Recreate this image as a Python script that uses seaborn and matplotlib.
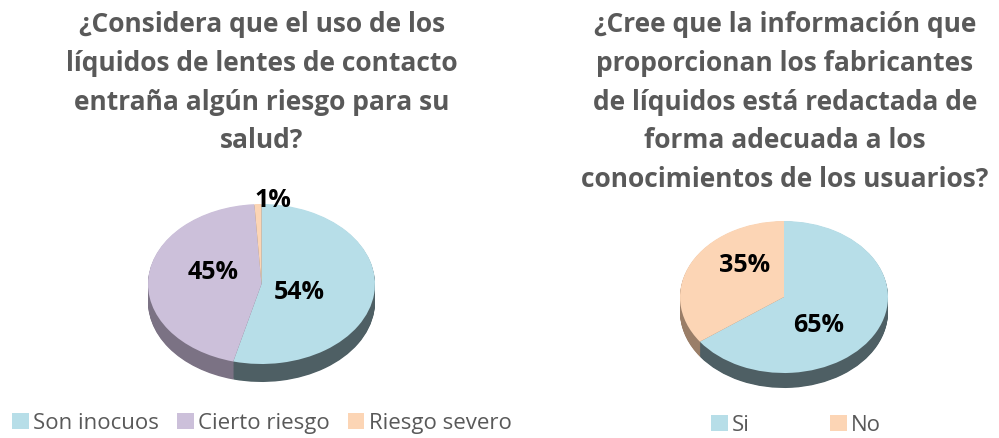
import matplotlib
matplotlib.use("Agg")
import matplotlib.pyplot as plt
from matplotlib.patches import Patch
import seaborn as sns

sns.set_theme(style="white")
plt.rcParams['font.family'] = ['Open Sans', 'DejaVu Sans']

# data
riesgo_labels = ['Son inocuos', 'Cierto riesgo', 'Riesgo severo']
riesgo_values = [54, 45, 1]
info_labels = ['Si', 'No']
info_values = [65, 35]

title_left = '¿Considera que el uso de los\nlíquidos de lentes de contacto\nentraña algún riesgo para su\nsalud?'
title_right = ('¿Cree que la información que\nproporcionan los fabricantes\nde líquidos está redactada de\n'
               'forma adecuada a los\nconocimientos de los usuarios?')

top_colors = {'Son inocuos': '#B7DEE8', 'Cierto riesgo': '#CCC0DA', 'Riesgo severo': '#FCD5B5',
              'Si': '#B7DEE8', 'No': '#FCD5B5'}
side_colors = {'Son inocuos': '#4E5F64', 'Cierto riesgo': '#7B7284', 'Riesgo severo': '#9A7E68',
               'Si': '#4E5F64', 'No': '#9A7E68'}

W, H = 999, 439
fig = plt.figure(figsize=(W / 100, H / 100), dpi=100)


def pie3d(box, labels, values, ry_px, depth_px, label_pos):
    x0, y0, w, h = box  # pixels, y from top
    ax = fig.add_axes([x0 / W, 1 - (y0 + h) / H, w / W, h / H])
    units = h / ry_px
    depth = depth_px / ry_px
    # side of the disc
    n = 24
    for i in range(n, 0, -1):
        d = depth * i / n
        ax.pie(values, colors=[side_colors[l] for l in labels], startangle=90, counterclock=False,
               center=(0, -d), radius=1, wedgeprops=dict(linewidth=0), frame=True)
    wedges, _, autotexts = ax.pie(values, colors=[top_colors[l] for l in labels], startangle=90,
                                  counterclock=False, radius=1, autopct='%1.0f%%',
                                  pctdistance=0.45, wedgeprops=dict(linewidth=0),
                                  textprops=dict(fontsize=18, fontweight='bold', color='black'),
                                  frame=True)
    # label placement as in the original (Excel style)
    for t, pos in zip(autotexts, label_pos):
        t.set_position(pos)
    ax.set_aspect('auto')
    ax.set_xlim(-1, 1)
    ax.set_ylim(1 - units, 1)
    ax.axis('off')
    return ax


pie3d((148, 205, 227, 185), riesgo_labels, riesgo_values, 80, 18,
      [(0.33, -0.09), (-0.43, 0.16), (0.1, 1.06)])
pie3d((680, 222, 208, 175), info_labels, info_values, 76, 15,
      [(0.33, -0.36), (-0.375, 0.43)])

fig.text(262 / W, 1 - 11 / H, title_left, ha='center', va='top', fontsize=19, fontweight='bold',
         color='#595959', linespacing=1.56)
fig.text(785 / W, 1 - 11 / H, title_right, ha='center', va='top', fontsize=19, fontweight='bold',
         color='#595959', linespacing=1.56)

hl = [Patch(facecolor=top_colors[l], edgecolor='none') for l in riesgo_labels]
fig.legend(hl, riesgo_labels, loc='center', bbox_to_anchor=(262 / W, 1 - 424 / H), ncol=3,
           frameon=False, fontsize=16, handlelength=0.75, handleheight=0.75, handletextpad=0.2,
           columnspacing=0.8, labelcolor='#595959', borderpad=0)
hr = [Patch(facecolor=top_colors[l], edgecolor='none') for l in info_labels]
fig.legend(hr, info_labels, loc='center', bbox_to_anchor=(796 / W, 1 - 426 / H), ncol=2,
           frameon=False, fontsize=16, handlelength=0.75, handleheight=0.75, handletextpad=0.2,
           columnspacing=3.6, labelcolor='#595959', borderpad=0)

fig.savefig('out.png', dpi=100)
